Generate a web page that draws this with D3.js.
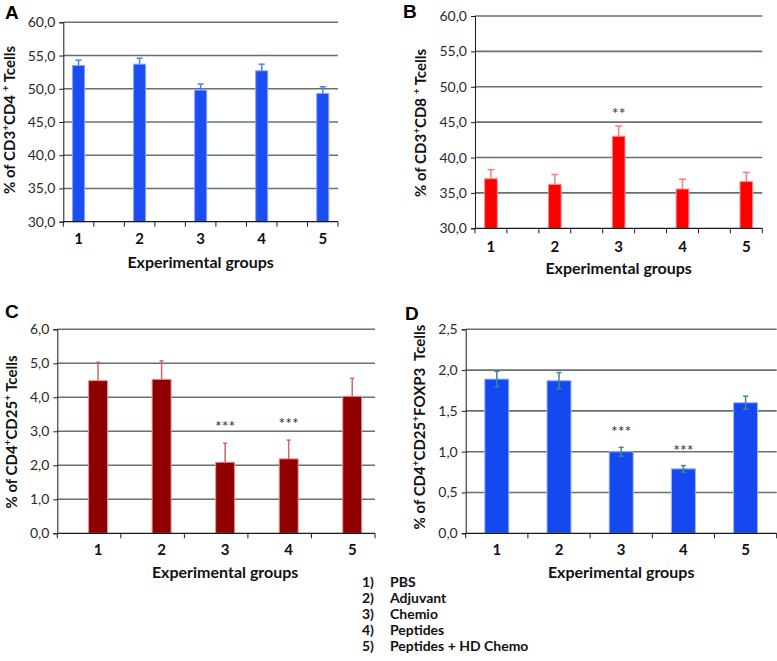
<!DOCTYPE html>
<html><head><meta charset="utf-8">
<script src="https://cdn.jsdelivr.net/npm/d3@7"></script>
<style>
body{margin:0;background:#fff}
svg{display:block}
text{font-family:Lato,"Open Sans",sans-serif}
</style>
</head><body>
<svg id="chart" width="777" height="661"></svg>
<script>
// ---- data ----
const groups = ["1", "2", "3", "4", "5"];
const legendLabels = ["PBS", "Adjuvant", "Chemio", "Peptides", "Peptides + HD Chemo"];

const cd4Values = [53.5, 53.7, 49.8, 52.7, 49.3];
const cd4Errors = [0.8, 0.9, 0.9, 1.0, 1.0];
const cd4Ticks = [30, 35, 40, 45, 50, 55, 60];

const cd8Values = [37.0, 36.2, 43.0, 35.55, 36.6];
const cd8Errors = [1.3, 1.4, 1.45, 1.4, 1.3];
const cd8Stars = ["", "", "**", "", ""];
const cd8Ticks = [30, 35, 40, 45, 50, 55, 60];

const cd25Values = [4.49, 4.53, 2.09, 2.19, 4.03];
const cd25Errors = [0.54, 0.54, 0.56, 0.55, 0.53];
const cd25Stars = ["", "", "***", "***", ""];
const cd25Ticks = [0, 1, 2, 3, 4, 5, 6];

const foxp3Values = [1.89, 1.87, 1.00, 0.79, 1.60];
const foxp3Errors = [0.095, 0.10, 0.054, 0.04, 0.08];
const foxp3Stars = ["", "", "***", "***", ""];
const foxp3Ticks = [0, 0.5, 1.0, 1.5, 2.0, 2.5];

const xTitle = "Experimental groups";

// ---- panels ----
const panels = [
  {letter:"A", lx:5, ly:19, values:cd4Values, errs:cd4Errors, both:false, stars:null, ticks:cd4Ticks,
   x0:63.3, x1:338, yTop:22.3, yBot:221.7, layout:"point", barW:12, offset:0,
   fill:"#1b4df2", edge:"#86a4fa", errColor:"#4f7cf5", capW:6,
   title:[["% of CD3",0],["+",1],["CD4 ",0],["+",1],[" Tcells",0]], tx:10, ty:120,
   tickY:244, xTitleY:268},
  {letter:"B", lx:403, ly:18, values:cd8Values, errs:cd8Errors, both:false, stars:cd8Stars, ticks:cd8Ticks,
   x0:475, x1:762.3, yTop:16, yBot:228.3, layout:"point", barW:12.7, offset:0,
   fill:"#ff0000", edge:"#ff8c8c", errColor:"#ff7a7a", capW:7, starGap:16,
   title:[["% of CD3",0],["+",1],["CD8 ",0],["+",1],[" Tcells",0]], tx:421, ty:123,
   tickY:252, xTitleY:274},
  {letter:"C", lx:5, ly:318, values:cd25Values, errs:cd25Errors, both:false, stars:cd25Stars, ticks:cd25Ticks,
   x0:57.3, x1:375, yTop:329.3, yBot:533.3, layout:"band", barW:19, offset:9,
   fill:"#900000", edge:"#e29a9a", errColor:"#cf6565", capW:4, starGap:20,
   title:[["% of CD4",0],["+",1],["CD25",0],["+",1],[" Tcells",0]], tx:12, ty:432,
   tickY:555, xTitleY:578},
  {letter:"D", lx:405, ly:320, values:foxp3Values, errs:foxp3Errors, both:true, stars:foxp3Stars, ticks:foxp3Ticks,
   x0:465.7, x1:776.7, yTop:329.3, yBot:533.3, layout:"band", barW:24, offset:0,
   fill:"#1648f0", edge:"#9ab5ff", errColor:"#3b8a90", capW:5, starGap:19,
   title:[["% of CD4",0],["+",1],["CD25",0],["+",1],["FOXP3  Tcells",0]], tx:420, ty:427,
   tickY:555, xTitleY:578}
];

const svg = d3.select("#chart");
const fmt = v => d3.format(".1f")(v).replace(".", ",");

panels.forEach(p => {
  const g = svg.append("g");
  const y = d3.scaleLinear().domain([p.ticks[0], p.ticks[p.ticks.length - 1]]).range([p.yBot, p.yTop]);
  let cx, xTicks;
  if (p.layout === "point") {
    const x = d3.scalePoint().domain(groups).range([p.x0, p.x1]).padding(0.25);
    const s = x.step();
    cx = d => x(d);
    xTicks = groups.flatMap(d => [x(d) - s / 4, x(d) + s / 4]);
  } else {
    const x = d3.scaleBand().domain(groups).range([p.x0, p.x1]);
    cx = d => x(d) + x.bandwidth() / 2 + p.offset;
    xTicks = groups.map(d => x(d)).concat([p.x1]);
  }

  // gridlines
  g.selectAll(".grid").data(p.ticks.slice(1)).join("line")
    .attr("x1", p.x0).attr("x2", p.x1)
    .attr("y1", d => y(d)).attr("y2", d => y(d))
    .attr("stroke", "#667272").attr("stroke-width", 1.6);

  // y axis
  const yAxis = d3.axisLeft(y).tickValues(p.ticks).tickFormat(fmt).tickSize(4).tickPadding(4);
  const ya = g.append("g").attr("transform", `translate(${p.x0},0)`).call(yAxis);
  ya.select(".domain").attr("stroke", "#1a1a1a");
  ya.selectAll(".tick line").attr("stroke", "#1a1a1a");
  ya.selectAll(".tick text").attr("font-size", 14).attr("fill", "#2a2a2a")
    .style("font-family", "Lato, sans-serif");

  // bars
  g.selectAll(".bar").data(groups).join("rect")
    .attr("x", (d) => cx(d) - p.barW / 2)
    .attr("width", p.barW)
    .attr("y", (d, i) => y(p.values[i]))
    .attr("height", (d, i) => p.yBot - y(p.values[i]))
    .attr("fill", p.fill).attr("stroke", p.edge).attr("stroke-width", 1);

  // error bars
  groups.forEach((d, i) => {
    const c = cx(d), v = p.values[i], e = p.errs[i];
    const lo = p.both ? v - e : v;
    g.append("line").attr("x1", c).attr("x2", c).attr("y1", y(lo)).attr("y2", y(v + e))
      .attr("stroke", p.errColor).attr("stroke-width", 1.5);
    g.append("line").attr("x1", c - p.capW / 2).attr("x2", c + p.capW / 2)
      .attr("y1", y(v + e)).attr("y2", y(v + e)).attr("stroke", p.errColor).attr("stroke-width", 1.5);
    if (p.both) {
      g.append("line").attr("x1", c - p.capW / 2).attr("x2", c + p.capW / 2)
        .attr("y1", y(lo)).attr("y2", y(lo)).attr("stroke", p.errColor).attr("stroke-width", 1.5);
    }
    if (p.stars && p.stars[i]) {
      g.append("text").attr("x", c).attr("y", y(v + e) - p.starGap + 9)
        .attr("text-anchor", "middle").attr("font-size", 16).attr("fill", "#333")
        .text(p.stars[i]);
    }
  });

  // x axis line + ticks
  g.append("line").attr("x1", p.x0).attr("x2", p.x1).attr("y1", p.yBot).attr("y2", p.yBot)
    .attr("stroke", "#1a1a1a").attr("stroke-width", 1.2);
  g.selectAll(".xt").data(xTicks).join("line")
    .attr("x1", d => d).attr("x2", d => d).attr("y1", p.yBot).attr("y2", p.yBot + 5)
    .attr("stroke", "#1a1a1a");

  // x tick labels
  g.selectAll(".xl").data(groups).join("text")
    .attr("x", d => cx(d)).attr("y", p.tickY)
    .attr("text-anchor", "middle").attr("font-size", 15).attr("font-weight", 700).attr("fill", "#111")
    .text(d => d);

  // x title
  const mid = (cx(groups[0]) + cx(groups[groups.length - 1])) / 2;
  g.append("text").attr("x", mid).attr("y", p.xTitleY)
    .attr("text-anchor", "middle").attr("font-size", 16).attr("font-weight", 700).attr("fill", "#111")
    .text(xTitle);

  // y title
  const t = g.append("text")
    .attr("transform", `translate(${p.tx + 5},${p.ty}) rotate(-90)`)
    .attr("text-anchor", "middle").attr("font-size", 15).attr("font-weight", 700).attr("fill", "#111");
  p.title.forEach(([s, sup]) => {
    t.append("tspan").attr("font-size", sup ? 10 : 15).attr("baseline-shift", sup ? "super" : "0")
      .style("white-space", "pre").text(s);
  });

  // panel letter
  g.append("text").attr("x", p.lx).attr("y", p.ly)
    .style("font-family", "'Liberation Sans', Arial, sans-serif")
    .attr("font-size", 19).attr("font-weight", 700).attr("fill", "#000").text(p.letter);
});

// legend
const leg = svg.append("g");
legendLabels.forEach((lab, i) => {
  leg.append("text").attr("x", 362).attr("y", 586.5 + i * 16)
    .attr("font-size", 14).attr("font-weight", 700).attr("fill", "#111").text(groups[i] + ")");
  leg.append("text").attr("x", 390).attr("y", 586.5 + i * 16)
    .attr("font-size", 14).attr("font-weight", 700).attr("fill", "#111").text(lab);
});
</script>
</body></html>
